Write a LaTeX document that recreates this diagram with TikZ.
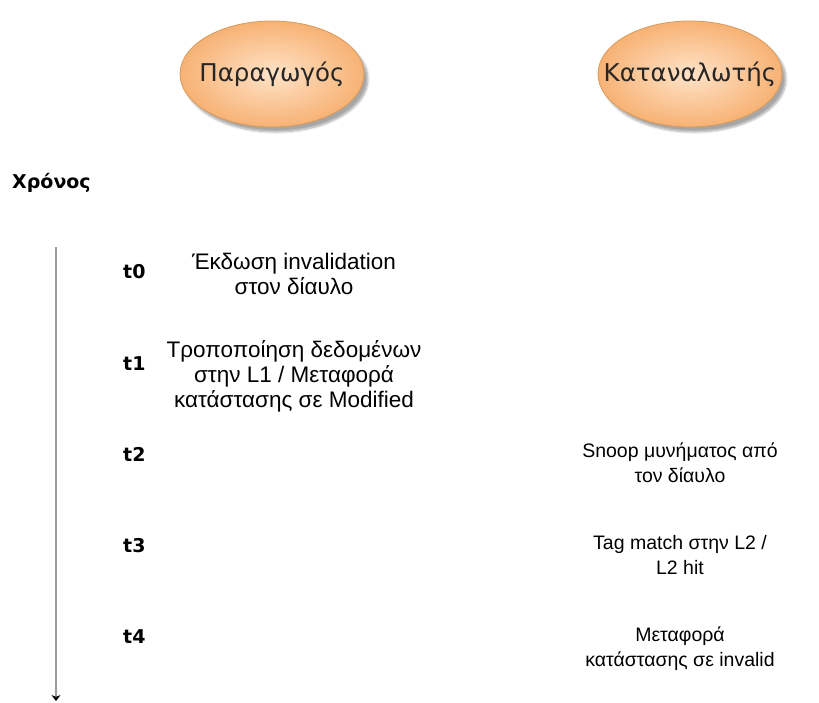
\documentclass[tikz,border=0pt]{standalone}
\usepackage{fontspec}
\setmainfont{Liberation Sans}
\newfontfamily\roundfont{DejaVu Sans}
\newfontfamily\boldlabel{DejaVu Sans Bold}
\usetikzlibrary{shapes.geometric,shadows.blur,arrows.meta}
\definecolor{peachin}{HTML}{FFE3C8}
\definecolor{peachout}{HTML}{F7B274}
\definecolor{rimcol}{HTML}{D99A5C}
\definecolor{axiscol}{HTML}{9C9C9C}
% label of fixed outer size: the ellipse keeps its own dimensions
\newcommand{\actorname}[1]{\makebox[0pt]{#1}}
\begin{document}
\begin{tikzpicture}[x=1pt,y=-1pt,
  actor/.style={ellipse, minimum width=184pt, minimum height=106pt, inner sep=0pt,
    draw=rimcol, line width=0.8pt, inner color=peachin, outer color=peachout,
    blur shadow={shadow xshift=4pt, shadow yshift=-5pt, shadow blur steps=8, shadow opacity=35},
    font=\roundfont\fontsize{24.5}{28}\selectfont, text=black!85},
  tlabel/.style={anchor=base west, inner sep=0pt, font=\boldlabel\fontsize{19}{22}\selectfont},
  leftevent/.style={anchor=north, inner sep=0pt, align=center,
    font=\fontsize{22.5}{25}\selectfont, execute at begin node=\strut},
  rightevent/.style={anchor=north, inner sep=0pt, align=center,
    font=\fontsize{19.5}{25}\selectfont, execute at begin node=\strut},
  axis/.style={draw=axiscol, line width=1.6pt}
]
\useasboundingbox (0,0) rectangle (819,702);

% participants
\node[actor] (prod) at (272,74) {\actorname{Παραγωγός}};
\node[actor] (cons) at (690,74) {\actorname{Καταναλωτής}};

% time axis
\node[tlabel] (time) at (12,188) {Χρόνος};
\coordinate (axtop) at (56,247);
\coordinate (axbot) at (56,701);
\draw[axis, -{Stealth[length=6pt,width=9pt,black]}] (axtop) -- (axbot);

% time steps
\node[tlabel] (t0) at (123,278) {t0};
\node[tlabel] (t1) at (123,370) {t1};
\node[tlabel] (t2) at (123,461) {t2};
\node[tlabel] (t3) at (123,552) {t3};
\node[tlabel] (t4) at (123,643) {t4};

% events at the producer
\node[leftevent] (e0) at (294,252.5) {Έκδωση invalidation\\στον δίαυλο};
\node[leftevent] (e1) at (294,340.5) {Τροποποίηση δεδομένων\\στην L1 / Μεταφορά\\κατάστασης σε Modified};

% events at the consumer
\node[rightevent] (e2) at (680,443) {Snoop μυνήματος από\\τον δίαυλο};
\node[rightevent] (e3) at (680,535) {Tag match στην L2 /\\L2 hit};
\node[rightevent] (e4) at (680,627) {Μεταφορά\\κατάστασης σε invalid};
\end{tikzpicture}
\end{document}
